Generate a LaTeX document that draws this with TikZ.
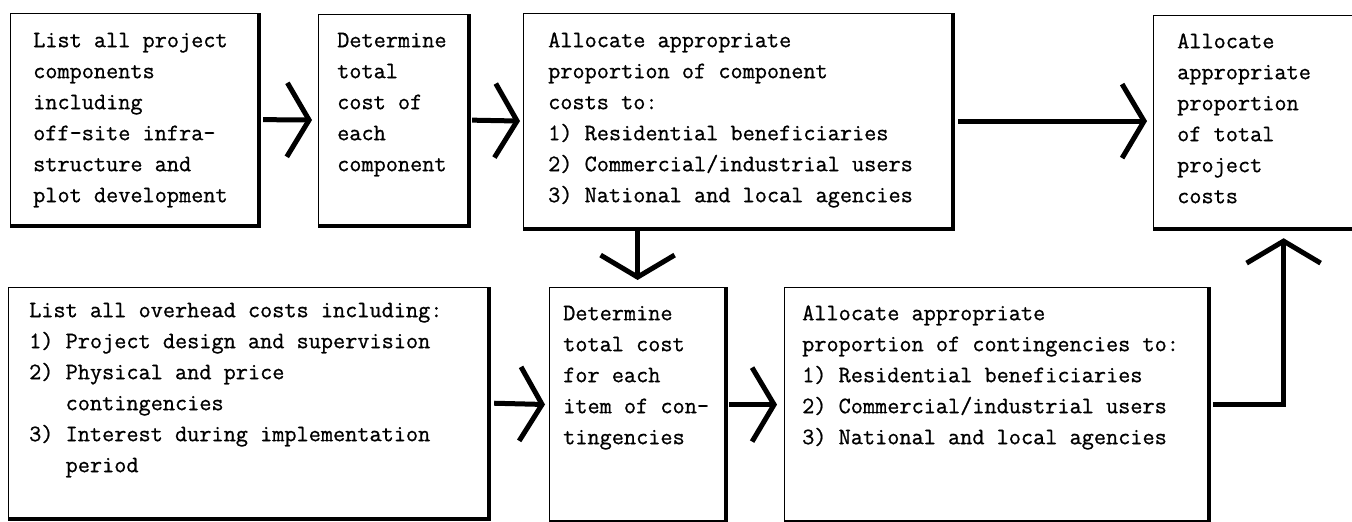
\documentclass[tikz,border=0pt]{standalone}
\usepackage{fontspec}
\newfontfamily\typew{Latin Modern Mono}[FakeBold=0.8]
\usetikzlibrary{arrows.meta,calc}
\begin{document}
\begin{tikzpicture}[x=1pt,y=-1pt,
  boxst/.style={draw, line width=1.2pt, inner sep=0pt, anchor=north west},
  shadowst/.style={line width=3.5pt},
  txt/.style={anchor=north west, inner sep=0pt, align=left,
    font=\fontsize{23.6}{31}\selectfont\typew},
  conn/.style={line width=5pt, -{Straight Barb[length=22pt,width=74pt]}}
]
\useasboundingbox (0,0) rectangle (1352,522);

% boxes
\node[boxst, minimum width=248pt, minimum height=212pt] (b1) at (10,13) {};
\node[boxst, minimum width=150pt, minimum height=211pt] (b2) at (318,14) {};
\node[boxst, minimum width=429pt, minimum height=215pt] (b3) at (523,13) {};
\node[boxst, minimum width=215pt, minimum height=213pt] (b4) at (1153,15) {};
\node[boxst, minimum width=480pt, minimum height=231pt] (b5) at (8,287) {};
\node[boxst, minimum width=176pt, minimum height=234pt] (b6) at (549,287) {};
\node[boxst, minimum width=424pt, minimum height=234pt] (b7) at (784,287) {};

\foreach \b in {b1,b2,b3,b4,b5,b6,b7}
  \draw[shadowst] (\b.north east) -- (\b.south east) -- (\b.south west);

% texts
\node[txt] (t1) at (33,27) {\rule{0pt}{20pt}List all project\\components\\including\\off-site infra-\\structure and\\plot development};
\node[txt] (t2) at (337,27) {\rule{0pt}{20pt}Determine\\total\\cost of\\each\\component};
\node[txt] (t3) at (548,27) {\rule{0pt}{20pt}Allocate appropriate\\proportion of component\\costs to:\\1) Residential beneficiaries\\2) Commercial/industrial users\\3) National and local agencies};
\node[txt] (t4) at (1177,28) {\rule{0pt}{20pt}Allocate\\appropriate\\proportion\\of total\\project\\costs};
\node[txt] (t5) at (29,297) {\rule{0pt}{20pt}List all overhead costs including:\\1) Project design and supervision\\2) Physical and price\\\phantom{1) }contingencies\\3) Interest during implementation\\\phantom{1) }period};
\node[txt] (t6) at (563,300) {\rule{0pt}{20pt}Determine\\total cost\\for each\\item of con-\\tingencies};
\node[txt] (t7) at (802,300) {\rule{0pt}{20pt}Allocate appropriate\\proportion of contingencies to:\\1) Residential beneficiaries\\2) Commercial/industrial users\\3) National and local agencies};

% connectors
\draw[conn, shorten <=4pt, shorten >=6pt] (b1.east) -- (b2.west);
\draw[conn, shorten <=3pt, shorten >=3pt] (b2.east) -- (b3.west);
\draw[conn, shorten <=5pt, shorten >=6pt] (b3.east) -- (b3.east -| b4.west);
\draw[conn, shorten <=2pt, shorten >=7pt] (b6.north |- b3.south) -- (b6.north);
\draw[conn, shorten <=5pt, shorten >=4pt] (b5.east) -- (b6.west);
\draw[conn, shorten <=3pt, shorten >=7pt] (b6.east) -- (b7.west);
\draw[conn, shorten <=4pt, shorten >=9pt] (b7.east) -| ([xshift=22.5pt]b4.south);
\end{tikzpicture}
\end{document}
